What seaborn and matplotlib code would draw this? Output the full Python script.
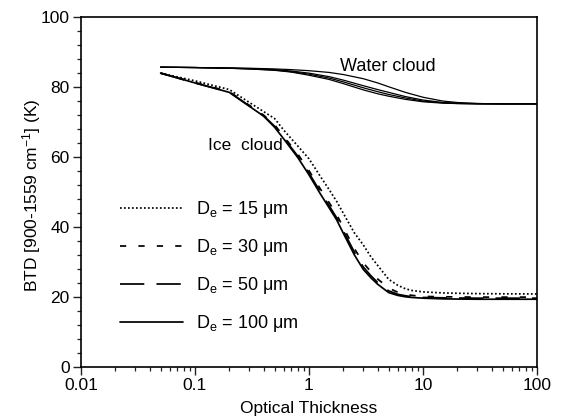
import matplotlib
matplotlib.use("Agg")
import matplotlib.pyplot as plt
import numpy as np
import pandas as pd
import seaborn as sns

sns.set_theme(style="white")
plt.rcParams["font.family"] = ["Liberation Sans", "DejaVu Sans"]
plt.rcParams["mathtext.default"] = "regular"
plt.rcParams["text.color"] = "black"
plt.rcParams["axes.labelcolor"] = "black"
plt.rcParams["xtick.color"] = "black"
plt.rcParams["ytick.color"] = "black"

# Ice cloud curves (optical thickness vs BTD)
tau_ice = [0.05, 0.1, 0.2, 0.4, 0.5, 0.6, 0.8, 1.0, 1.25, 1.5, 1.75, 2.0, 2.5,
           3.0, 3.5, 4.0, 5.0, 6.0, 7.0, 8.0, 10, 15, 20, 30, 50, 100]
ice_15 = [84.0, 81.8, 79.3, 73.0, 71.0, 67.7, 63.1, 59.5, 54.6, 50.7, 47.3, 43.9, 38.3,
          34.8, 31.4, 29.0, 25.0, 23.3, 22.3, 21.8, 21.4, 21.1, 21.0, 20.9, 20.85, 20.8]
ice_30 = [84.0, 81.3, 78.7, 72.0, 69.2, 65.9, 60.8, 56.1, 51.0, 47.0, 43.5, 39.9, 33.8,
          29.7, 27.1, 25.1, 22.5, 21.3, 20.7, 20.4, 20.1, 20.0, 19.95, 19.9, 19.9, 19.9]
ice_50 = [84.0, 81.2, 78.6, 71.8, 68.8, 65.5, 60.2, 55.4, 50.2, 46.1, 42.6, 38.9, 32.8,
          28.5, 26.0, 24.1, 21.7, 20.7, 20.3, 20.0, 19.8, 19.7, 19.65, 19.6, 19.6, 19.6]
ice_100 = [84.0, 81.2, 78.5, 71.7, 68.5, 65.2, 59.8, 54.9, 49.6, 45.5, 42.0, 38.2, 32.0,
           27.8, 25.4, 23.6, 21.2, 20.4, 20.0, 19.8, 19.6, 19.4, 19.35, 19.3, 19.3, 19.3]

# Water cloud curves
tau_water = [0.05, 0.1, 0.2, 0.3, 0.5, 0.7, 1.0, 1.5, 2, 3, 4, 5, 7, 10, 15, 20, 30, 50, 100]
water_1 = [85.7, 85.6, 85.5, 85.4, 85.2, 85.0, 84.7, 84.2, 83.6, 82.4, 81.2, 80.1, 78.5,
           77.1, 76.0, 75.6, 75.3, 75.2, 75.2]
water_2 = [85.7, 85.6, 85.4, 85.3, 85.0, 84.6, 84.0, 83.0, 82.0, 80.4, 79.3, 78.5, 77.3,
           76.3, 75.6, 75.4, 75.3, 75.2, 75.2]
water_3 = [85.7, 85.6, 85.4, 85.2, 84.9, 84.4, 83.7, 82.6, 81.5, 79.8, 78.7, 77.9, 76.9,
           76.0, 75.5, 75.3, 75.2, 75.2, 75.2]
water_4 = [85.7, 85.6, 85.4, 85.2, 84.8, 84.3, 83.4, 82.2, 81.0, 79.2, 78.1, 77.4, 76.5,
           75.8, 75.4, 75.3, 75.2, 75.2, 75.2]

ice_labels = ["D$_e$ = 15 μm", "D$_e$ = 30 μm", "D$_e$ = 50 μm", "D$_e$ = 100 μm"]
ice_styles = [(0, (1, 1.3)), (0, (3.6, 7)), (0, (14, 7)), "-"]

fig = plt.figure(figsize=(5.62, 4.2), dpi=100)
ax = fig.add_axes([0.144, 0.127, 0.8115, 0.832])

for w in [water_1, water_2, water_3, water_4]:
    sns.lineplot(x=tau_water, y=w, ax=ax, color="black", lw=0.9, sort=False)

handles = []
for vals, lab, ls in zip([ice_15, ice_30, ice_50, ice_100], ice_labels, ice_styles):
    sns.lineplot(x=tau_ice, y=vals, ax=ax, color="black", lw=1.25, linestyle=ls, sort=False)
    handles.append(ax.lines[-1])

ax.set_xscale("log")
ax.set_xlim(0.01, 100)
ax.set_ylim(0, 100)
ax.set_yticks(np.arange(0, 101, 20))
ax.set_yticks(np.arange(0, 101, 4), minor=True)
ax.set_xticks([0.01, 0.1, 1, 10, 100])
ax.set_xticklabels(["0.01", "0.1", "1", "10", "100"])
ax.tick_params(which="major", direction="out", length=6, width=1, labelsize=12.5,
               left=True, bottom=True, color="#222222", pad=2)
ax.tick_params(which="minor", direction="out", length=3, width=0.9,
               left=True, bottom=True, color="#222222")
for s in ax.spines.values():
    s.set_color("black")
    s.set_linewidth(1.2)

ax.set_xlabel("Optical Thickness", fontsize=12.5, labelpad=6)
ax.set_ylabel("BTD [900-1559 cm$^{-1}$] (K)", fontsize=12.5)
ax.yaxis.set_label_coords(-0.084, 0.49)

ax.text(4.9, 85.8, "Water cloud", fontsize=13, ha="center", va="center")
ax.text(0.275, 63.2, "Ice  cloud", fontsize=12.5, ha="center", va="center")

ax.legend(handles, ice_labels, loc="upper left", bbox_to_anchor=(0.085, 0.48),
          frameon=False, fontsize=13, handlelength=3.5, handletextpad=0.75,
          labelspacing=0.95, borderaxespad=0, borderpad=0)

fig.savefig("out.png", dpi=100)
